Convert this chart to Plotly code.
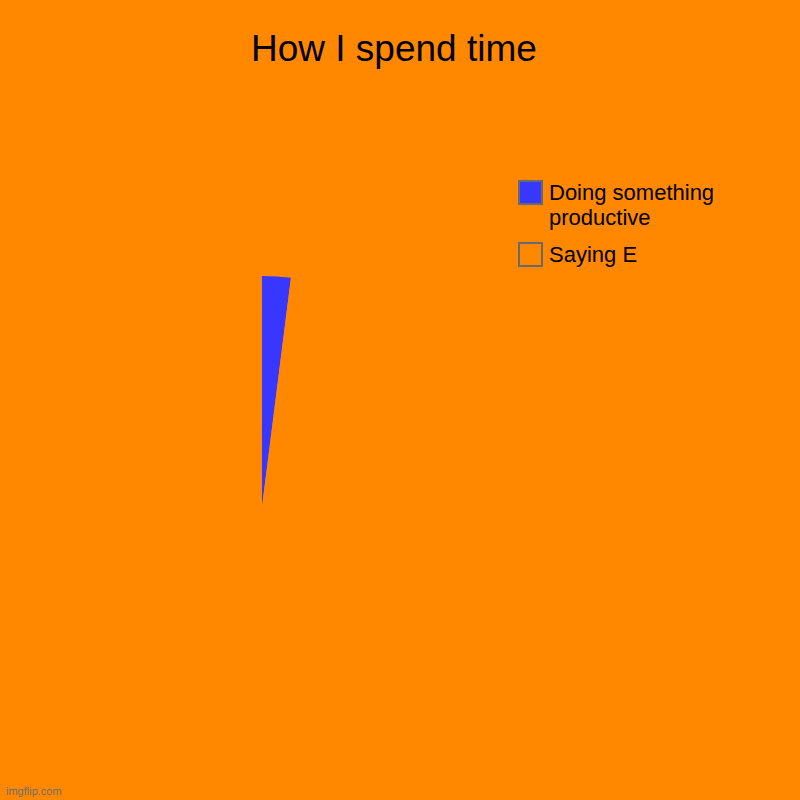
import plotly.graph_objects as go

labels = ["Doing something productive", "Saying E"]
values = [2, 98]
colors = ["#3737FF", "#FF8800"]
title_text = "How I spend time"
bg = "#FF8800"

W, H = 800, 800

fig = go.Figure(go.Pie(
    labels=labels, values=values, sort=False, direction="clockwise", rotation=0,
    marker=dict(colors=colors, line=dict(width=0)),
    textinfo="none", hoverinfo="label+percent", showlegend=False,
    domain=dict(x=[31 / W, 493 / W], y=[1 - 738 / H, 1 - 276 / H]),
))

def px(x):
    return x / W

def py(y):
    return 1 - y / H

shapes = []
annotations = [
    dict(text=title_text, x=px(393.5), y=py(48), xref="paper", yref="paper",
         xanchor="center", yanchor="middle", showarrow=False,
         font=dict(family="Liberation Sans, Arial", size=37, color="#000000")),
    dict(text="imgflip.com", x=px(4), y=py(791), xref="paper", yref="paper",
         xanchor="left", yanchor="middle", showarrow=False,
         font=dict(family="Liberation Sans, Arial", size=11, color="#6E6E6E")),
]

# custom legend
box_tops = [181, 243]
for i, lab in enumerate(labels):
    t = box_tops[i]
    shapes.append(dict(type="rect", xref="paper", yref="paper",
                       x0=px(519), x1=px(542), y0=py(t), y1=py(t + 23),
                       fillcolor=colors[i], line=dict(color="#6A6A6A", width=2)))
    words = lab.split(" ")
    lines = [" ".join(words[:2]), " ".join(words[2:])] if len(words) > 2 else [lab]
    for j, ln in enumerate(lines):
        annotations.append(dict(text=ln, x=px(547), y=py(t + 12 + 24 * j),
                                xref="paper", yref="paper", xanchor="left", yanchor="middle",
                                showarrow=False,
                                font=dict(family="Liberation Sans, Arial", size=22, color="#000000")))

fig.update_layout(
    width=W, height=H, margin=dict(l=0, r=0, t=0, b=0),
    paper_bgcolor=bg, plot_bgcolor=bg,
    shapes=shapes, annotations=annotations, showlegend=False,
)

fig.write_html("out.html", config={"displayModeBar": False},
               post_script="document.body.style.margin='0';document.body.style.overflow='hidden';")
